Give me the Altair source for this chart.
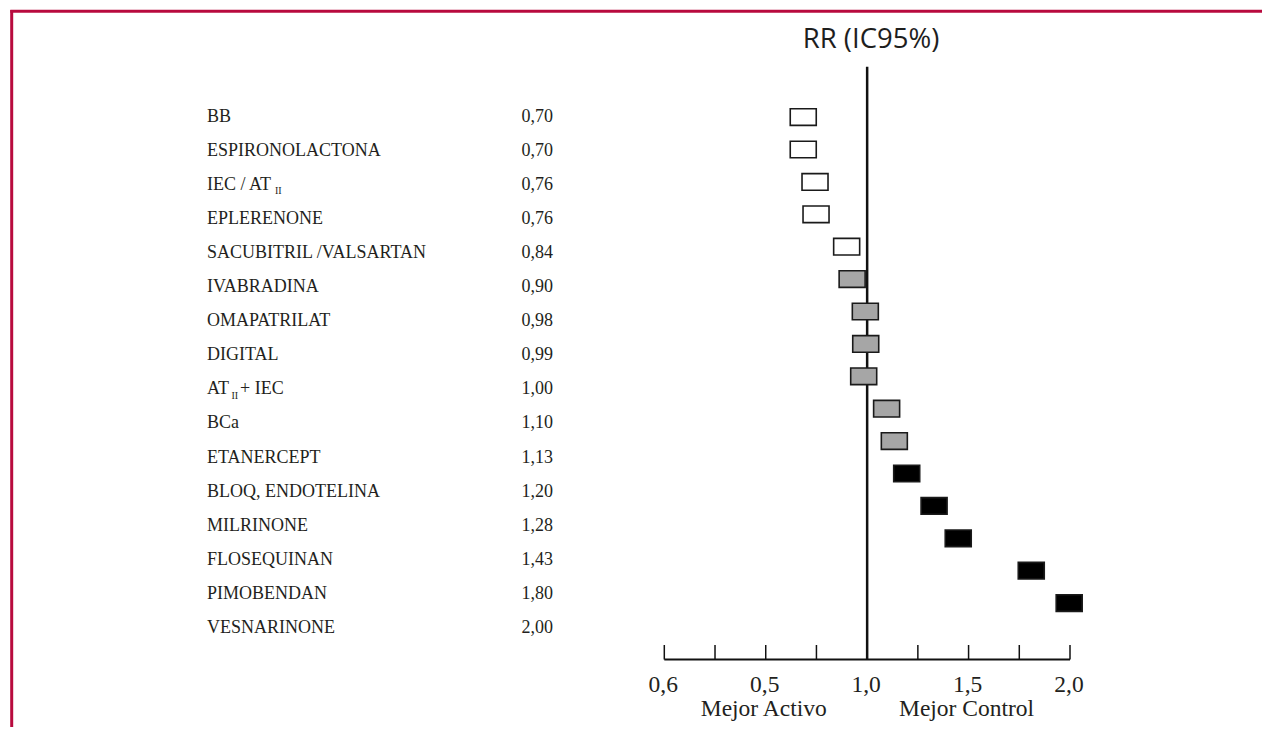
import altair as alt
import pandas as pd

# ---- data ----
names = [
    "BB", "ESPIRONOLACTONA", "IEC / AT", "EPLERENONE", "SACUBITRIL /VALSARTAN",
    "IVABRADINA", "OMAPATRILAT", "DIGITAL", "AT", "BCa",
    "ETANERCEPT", "BLOQ, ENDOTELINA", "MILRINONE", "FLOSEQUINAN", "PIMOBENDAN",
    "VESNARINONE",
]
subscripts = ["", "", "II", "", "", "", "", "", "II", "", "", "", "", "", "", ""]
name_tails = ["", "", "", "", "", "", "", "", "+ IEC", "", "", "", "", "", "", ""]
rr_text = ["0,70", "0,70", "0,76", "0,76", "0,84", "0,90", "0,98", "0,99",
           "1,00", "1,10", "1,13", "1,20", "1,28", "1,43", "1,80", "2,00"]
box_pos = [0.685, 0.685, 0.743, 0.748, 0.899, 0.926, 0.991, 0.993,
           0.983, 1.096, 1.134, 1.195, 1.330, 1.449, 1.809, 1.996]
groups = ["white"] * 5 + ["grey"] * 6 + ["black"] * 5

tick_vals = [0, 0.25, 0.5, 0.75, 1.0, 1.25, 1.5, 1.75, 2.0]
major_vals = [0, 0.5, 1.0, 1.5, 2.0]
tick_labels = ["0,6", "0,5", "1,0", "1,5", "2,0"]
side_vals = [0.5, 1.5]
side_labels = ["Mejor Activo", "Mejor Control"]
title_text = "RR (IC95%)"

df = pd.DataFrame({"row": list(range(len(names))), "name": names, "sub": subscripts,
                   "tail": name_tails, "rr": rr_text, "pos": box_pos, "grp": groups})

W, H = 1254, 719
SERIF = "Liberation Serif"
INK = "#231f20"
CRIMSON = "#b80a3e"

xscale = alt.Scale(domain=[0, 2], range=[656.3, 1062], nice=False, zero=False)
ylab = alt.Scale(domain=[0, 15], range=[113.7, 625], nice=False, zero=False)
ybox = alt.Scale(domain=[0, 15], range=[109.1, 595.1], nice=False, zero=False)

base = alt.Chart(df)

names_layer = base.mark_text(align="left", baseline="alphabetic", font=SERIF,
                             fontSize=18, color=INK).encode(
    x=alt.value(199), y=alt.Y("row:Q", scale=ylab, axis=None), text="name:N")

sub1 = base.transform_filter("datum.row == 2").mark_text(
    align="left", baseline="alphabetic", font=SERIF, fontSize=10, color=INK, dy=4.5).encode(
    x=alt.value(267), y=alt.Y("row:Q", scale=ylab, axis=None), text="sub:N")
sub2 = base.transform_filter("datum.row == 8").mark_text(
    align="left", baseline="alphabetic", font=SERIF, fontSize=10, color=INK, dy=4.5).encode(
    x=alt.value(223.5), y=alt.Y("row:Q", scale=ylab, axis=None), text="sub:N")
tail = base.transform_filter("datum.row == 8").mark_text(
    align="left", baseline="alphabetic", font=SERIF, fontSize=18, color=INK).encode(
    x=alt.value(232), y=alt.Y("row:Q", scale=ylab, axis=None), text="tail:N")

values_layer = base.mark_text(align="right", baseline="alphabetic", font=SERIF,
                              fontSize=18, color=INK).encode(
    x=alt.value(545), y=alt.Y("row:Q", scale=ylab, axis=None), text="rr:N")

rect_path = "M-1,-0.64L1,-0.64L1,0.64L-1,0.64Z"
boxes = base.mark_point(shape=rect_path, size=676, filled=True, opacity=1,
                        stroke="#1a1a1a", strokeWidth=1.6, strokeOpacity=1).encode(
    x=alt.X("pos:Q", scale=xscale, axis=None),
    y=alt.Y("row:Q", scale=ybox, axis=None),
    fill=alt.Fill("grp:N", scale=alt.Scale(domain=["white", "grey", "black"],
                                           range=["#ffffff", "#a6a6a6", "#000000"]),
                  legend=None),
)

center = alt.Chart(pd.DataFrame({"v": [1.0]})).mark_rule(color="#111111", strokeWidth=2.5).encode(
    x=alt.X("v:Q", scale=xscale, axis=None), y=alt.value(58.7), y2=alt.value(651.5))

axis_line = alt.Chart(pd.DataFrame({"a": [tick_vals[0]], "b": [tick_vals[-1]]})).mark_rule(
    color="#111111", strokeWidth=2).encode(
    x=alt.X("a:Q", scale=xscale, axis=None), x2="b:Q", y=alt.value(651.5))

ticks = alt.Chart(pd.DataFrame({"t": tick_vals})).mark_rule(color="#111111", strokeWidth=1.5).encode(
    x=alt.X("t:Q", scale=xscale, axis=None), y=alt.value(637), y2=alt.value(651.5))

tick_text = alt.Chart(pd.DataFrame({"t": major_vals, "lab": tick_labels})).mark_text(
    baseline="alphabetic", font=SERIF, fontSize=23.5, color=INK, dx=-1).encode(
    x=alt.X("t:Q", scale=xscale, axis=None), y=alt.value(683.8), text="lab:N")

side_text = alt.Chart(pd.DataFrame({"t": side_vals, "lab": side_labels})).mark_text(
    baseline="alphabetic", font=SERIF, fontSize=23.5, color=INK, dx=-2).encode(
    x=alt.X("t:Q", scale=xscale, axis=None), y=alt.value(708), text="lab:N")

title = alt.Chart(pd.DataFrame({"t": [title_text]})).mark_text(
    baseline="alphabetic", font="Open Sans", fontSize=27.5, color="#1e1e1e").encode(
    x=alt.value(863), y=alt.value(39.5), text="t:N")

frame_top = alt.Chart(pd.DataFrame({"k": [0]})).mark_rule(color=CRIMSON, strokeWidth=3).encode(
    x=alt.value(2.3), x2=alt.value(W), y=alt.value(3.3))
frame_left = alt.Chart(pd.DataFrame({"k": [0]})).mark_rule(color=CRIMSON, strokeWidth=3).encode(
    x=alt.value(3.7), y=alt.value(2), y2=alt.value(H))

chart = alt.layer(
    frame_top, frame_left, title, names_layer, sub1, sub2, tail, values_layer,
    axis_line, ticks, center, boxes, tick_text, side_text,
).resolve_scale(y="independent").properties(
    width=W, height=H, padding=0,
    autosize=alt.AutoSizeParams(type="none"),
).configure_view(stroke=None)

chart.save("out.html", embed_options={"renderer": "svg", "actions": False})
